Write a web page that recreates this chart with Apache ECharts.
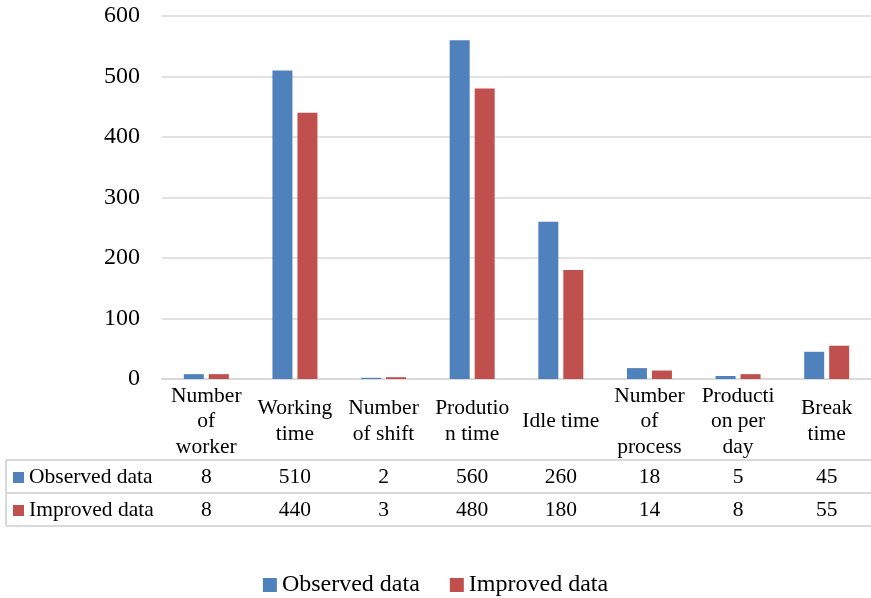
<!DOCTYPE html>
<html>
<head>
<meta charset="utf-8">
<style>
  html, body { margin: 0; padding: 0; background: #fff; }
  #chart { width: 871px; height: 598px; }
</style>
<script src="https://cdn.jsdelivr.net/npm/echarts@6/dist/echarts.min.js"></script>
</head>
<body>
<div id="chart"></div>
<script>
// data
const categories = [
  'Number\nof\nworker', 'Working\ntime', 'Number\nof shift', 'Produtio\nn time',
  'Idle time', 'Number\nof\nprocess', 'Producti\non per\nday', 'Break\ntime'
]
const observedData = [8, 510, 2, 560, 260, 18, 5, 45]
const improvedData = [8, 440, 3, 480, 180, 14, 8, 55]
const seriesNames = ['Observed data', 'Improved data']
const yTicks = { min: 0, max: 600, interval: 100 }

const colors = ['#4f81bd', '#c0504d']
const borderColor = '#d9d9d9'
const font = 'Liberation Serif, Times New Roman, serif'
const tableFontSize = 21.5

// table geometry (px from top / left)
const gridLeft = 162
const axisY = 379
const headerH = 81
const rowH = 33
const tableLeft = 6

const chart = echarts.init(document.getElementById('chart'))

const rowLines = [1, 2, 3].map(i => {
  const y = i === 1 ? axisY + headerH : axisY + headerH + rowH * (i - 1)
  return {
    type: 'line',
    shape: { x1: tableLeft, y1: y, x2: 871, y2: y },
    style: { stroke: borderColor, lineWidth: 2 }
  }
})

const rowLabels = []
seriesNames.forEach((name, i) => {
  const cy = axisY + headerH + rowH * i + rowH / 2 + 1
  rowLabels.push({
    type: 'rect',
    shape: { x: 13, y: cy - 5.5, width: 11, height: 11 },
    style: { fill: colors[i] }
  })
  rowLabels.push({
    type: 'text',
    x: 29,
    y: cy,
    style: {
      text: name,
      font: tableFontSize + 'px ' + font,
      fill: '#000',
      verticalAlign: 'middle'
    }
  })
})

const valueAxis = (data, offset) => ({
  type: 'category',
  data: data.map(String),
  position: 'bottom',
  offset: offset,
  axisLine: { show: false },
  axisTick: { show: false },
  axisLabel: {
    margin: rowH / 2 + 1,
    verticalAlign: 'middle',
    fontFamily: font,
    fontSize: tableFontSize,
    color: '#000'
  }
})

const option = {
  animation: false,
  grid: { left: gridLeft, right: 0, top: 16, bottom: 598 - axisY },
  legend: {
    data: seriesNames,
    top: 568,
    left: 'center',
    itemWidth: 14,
    itemHeight: 14,
    itemGap: 30,
    icon: 'rect',
    textStyle: { fontFamily: font, fontSize: 24, color: '#000' }
  },
  xAxis: [
    {
      type: 'category',
      data: categories,
      position: 'bottom',
      axisLine: { lineStyle: { color: borderColor, width: 2 } },
      axisTick: { length: headerH + rowH * 2, lineStyle: { color: borderColor, width: 2 } },
      axisLabel: {
        interval: 0,
        margin: headerH / 2 + 2,
        verticalAlign: 'middle',
        fontFamily: font,
        fontSize: tableFontSize,
        lineHeight: 25.5,
        color: '#000'
      }
    },
    valueAxis(observedData, headerH),
    valueAxis(improvedData, headerH + rowH)
  ],
  yAxis: {
    type: 'value',
    min: yTicks.min,
    max: yTicks.max,
    interval: yTicks.interval,
    axisLine: { show: false },
    axisTick: { show: false },
    axisLabel: { margin: 22, fontFamily: font, fontSize: 24, color: '#000' },
    splitLine: { lineStyle: { color: borderColor, width: 1.5 } }
  },
  series: [
    {
      name: seriesNames[0],
      type: 'bar',
      data: observedData,
      barWidth: 20,
      barGap: '25%',
      itemStyle: { color: colors[0] }
    },
    {
      name: seriesNames[1],
      type: 'bar',
      data: improvedData,
      barWidth: 20,
      barGap: '25%',
      itemStyle: { color: colors[1] }
    }
  ],
  graphic: [
    ...rowLines,
    {
      type: 'line',
      shape: { x1: tableLeft, y1: axisY + headerH, x2: tableLeft, y2: axisY + headerH + rowH * 2 },
      style: { stroke: borderColor, lineWidth: 2 }
    },
    ...rowLabels
  ]
}

chart.setOption(option)
</script>
</body>
</html>
